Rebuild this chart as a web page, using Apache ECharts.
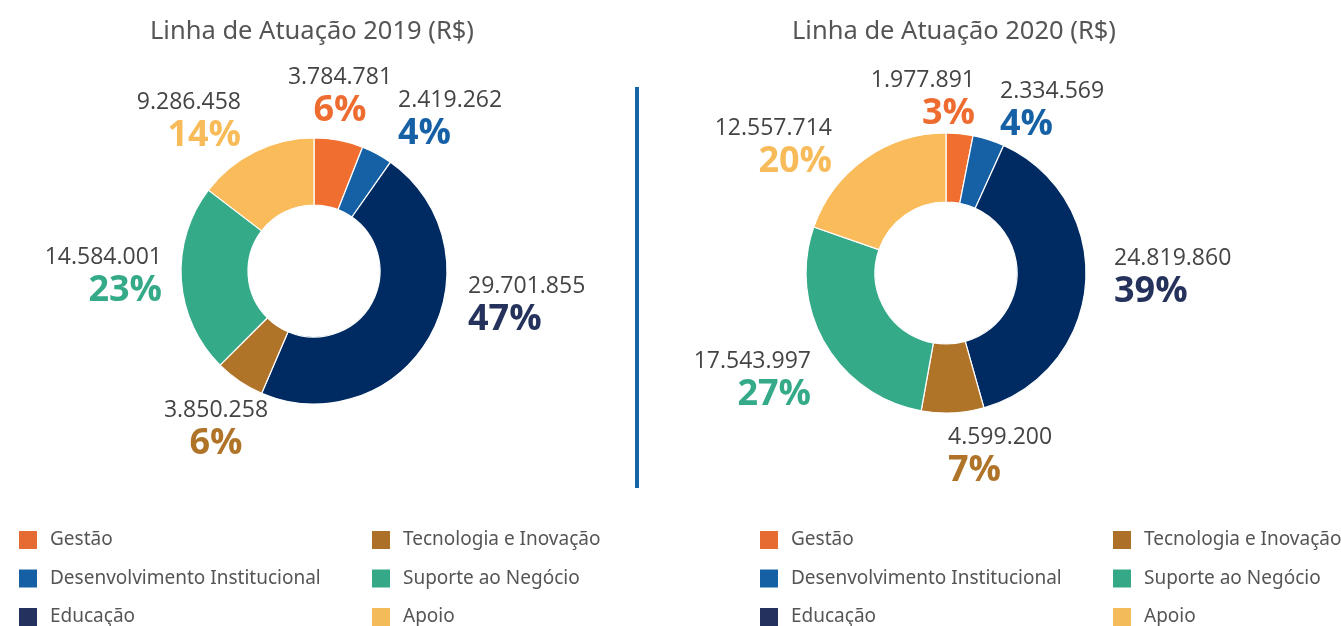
<!DOCTYPE html>
<html>
<head>
<meta charset="utf-8">
<script src="https://cdn.jsdelivr.net/npm/echarts@6/dist/echarts.min.js"></script>
<style>
  html, body { margin: 0; padding: 0; background: #fff; }
  #chart { width: 1341px; height: 626px; }
</style>
</head>
<body>
<div id="chart"></div>
<script>
// Budget split per line of action, 2019 and 2020 (R$)
const categories = ['Gestão', 'Desenvolvimento Institucional', 'Educação',
                    'Tecnologia e Inovação', 'Suporte ao Negócio', 'Apoio'];
const values2019 = [3784781, 2419262, 29701855, 3850258, 14584001, 9286458];
const values2020 = [1977891, 2334569, 24819860, 4599200, 17543997, 12557714];
const chartTitles = ['Linha de Atuação 2019 (R$)', 'Linha de Atuação 2020 (R$)'];

// Styling
const sliceColors  = ['#F06E30', '#1661A6', '#002B62', '#B07429', '#35AA88', '#FABB5A'];
const legendColors = ['#E66B33', '#1560A5', '#24305E', '#AD7029', '#35A987', '#F4BB5A'];
const pctColors    = ['#EE6C30', '#1661A6', '#24325C', '#B07429', '#35AA88', '#F8BB5A'];

// Label anchor for each slice: [x, y, align]
const labelAnchors2019 = [
  [340, 96, 'center'], [398, 119, 'left'], [468, 305, 'left'],
  [216, 429, 'center'], [162, 276, 'right'], [241, 121, 'right']
];
const labelAnchors2020 = [
  [975, 99, 'right'], [1000, 110, 'left'], [1114, 277, 'left'],
  [948, 456, 'left'], [811, 380, 'right'], [832, 147, 'right']
];

const TEXT_FONT = 'Noto Sans';
const LABEL_FONT = 'Open Sans';

function formatBR(n) {
  return String(n).replace(/\B(?=(\d{3})+(?!\d))/g, '.');
}

function buildData(values) {
  return categories.map((name, i) => ({
    name: name,
    value: values[i],
    itemStyle: { color: sliceColors[i] },
    label: { rich: { p: { fontFamily: LABEL_FONT, fontSize: 36, fontWeight: 'bold', lineHeight: 37, color: pctColors[i] } } }
  }));
}

function buildPie(values, center, radius, anchors) {
  return {
    type: 'pie',
    center: center,
    radius: radius,
    startAngle: 90,
    clockwise: true,
    percentPrecision: 0,
    avoidLabelOverlap: false,
    itemStyle: { borderColor: '#ffffff', borderWidth: 1.2 },
    emphasis: { disabled: true },
    labelLine: { show: false },
    label: {
      show: true,
      position: 'outside',
      formatter: p => '{v|' + formatBR(p.value) + '}\n{p|' + Math.round(p.percent) + '%}',
      rich: {
        v: { fontFamily: LABEL_FONT, fontSize: 23, lineHeight: 29, color: '#444444' }
      }
    },
    labelLayout: params => {
      const a = anchors[params.dataIndex];
      return { x: a[0], y: a[1], align: a[2], verticalAlign: 'middle' };
    },
    data: buildData(values)
  };
}

function buildLegend(left, names) {
  return {
    orient: 'vertical',
    left: left,
    top: 529,
    height: 200,
    padding: 0,
    icon: 'rect',
    itemWidth: 20,
    itemHeight: 20,
    itemGap: 16.5,
    selectedMode: false,
    textStyle: { fontFamily: TEXT_FONT, fontSize: 19, color: '#555555', padding: [0, 0, 0, 7] },
    data: names.map(n => ({ name: n, itemStyle: { color: legendColors[categories.indexOf(n)] } }))
  };
}

const col1 = categories.slice(0, 3);
const col2 = categories.slice(3, 6);

const chart = echarts.init(document.getElementById('chart'), null, { renderer: 'canvas' });
const titleStyle = { fontFamily: TEXT_FONT, fontSize: 25.5, fontWeight: 'normal', color: '#555555' };
chart.setOption({
  backgroundColor: '#ffffff',
  animation: false,
  title: [
    { text: chartTitles[0], left: 307, top: 14, textAlign: 'center', textStyle: titleStyle },
    { text: chartTitles[1], left: 949, top: 14, textAlign: 'center', textStyle: titleStyle }
  ],
  legend: [
    buildLegend(17, col1),
    buildLegend(370, col2),
    buildLegend(758, col1),
    buildLegend(1111, col2)
  ],
  graphic: [{
    type: 'rect',
    shape: { x: 635, y: 87, width: 4, height: 401 },
    style: { fill: '#1565A9' },
    silent: true
  }],
  series: [
    buildPie(values2019, [314, 271], [66, 133], labelAnchors2019),
    buildPie(values2020, [946, 273], [71, 140], labelAnchors2020)
  ]
});
</script>
</body>
</html>
